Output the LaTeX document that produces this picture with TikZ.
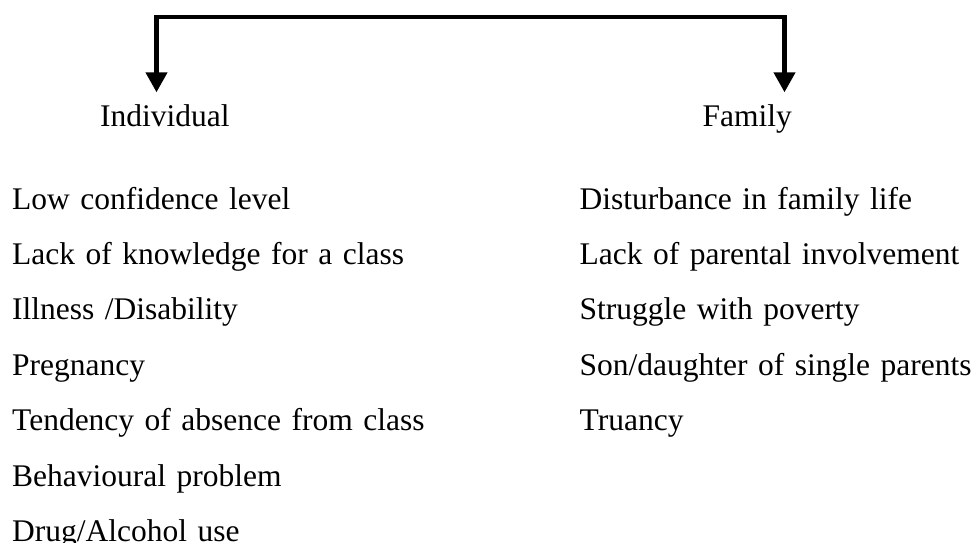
\documentclass[tikz,border=0pt]{standalone}
\usepackage{fontspec}
\setmainfont{Liberation Serif}
\usetikzlibrary{arrows.meta, positioning}

\begin{document}
\begin{tikzpicture}[
    node distance=24pt,
    font=\fontsize{31.5}{38}\selectfont,
    heading/.style={inner sep=0pt, anchor=base west, text height=34pt, text depth=9pt},
    item/.style={inner sep=0pt, text width=440pt, align=left, text height=22pt, text depth=9pt},
    arrow/.style={line width=4.3pt, {Triangle[width=21pt,length=20pt]}-{Triangle[width=21pt,length=20pt]}}
]
\useasboundingbox (0,0) rectangle (971pt,-543pt);

% Headings
\node (individual) [heading] at (100pt,-126.5pt) {Individual};
\node (family) [heading] at (702.5pt,-126.5pt) {Family};

% Individual factors
\node (confidence) [item, anchor=base west] at (12pt,-209pt) {Low confidence level};
\node (knowledge) [item, below=of confidence] {Lack of knowledge for a class};
\node (illness) [item, below=of knowledge] {Illness /Disability};
\node (pregnancy) [item, below=of illness] {Pregnancy};
\node (absence) [item, below=of pregnancy] {Tendency of absence from class};
\node (behaviour) [item, below=of absence] {Behavioural problem};
\node (drug) [item, below=of behaviour] {Drug/Alcohol use};

% Family factors
\node (disturbance) [item, anchor=base west] at (579.5pt,-209pt) {Disturbance in family life};
\node (parental) [item, below=of disturbance] {Lack of parental involvement};
\node (poverty) [item, below=of parental] {Struggle with poverty};
\node (single) [item, below=of poverty] {Son/daughter of single parents};
\node (truancy) [item, below=of single] {Truancy};

% Bracket
\coordinate (barleft) at (156.5pt,-17pt);
\coordinate (barright) at (784.5pt,-17pt);
\draw [arrow] (barleft |- individual.north) -- (barleft) -- (barright) -- (barright |- family.north);

\end{tikzpicture}
\end{document}
